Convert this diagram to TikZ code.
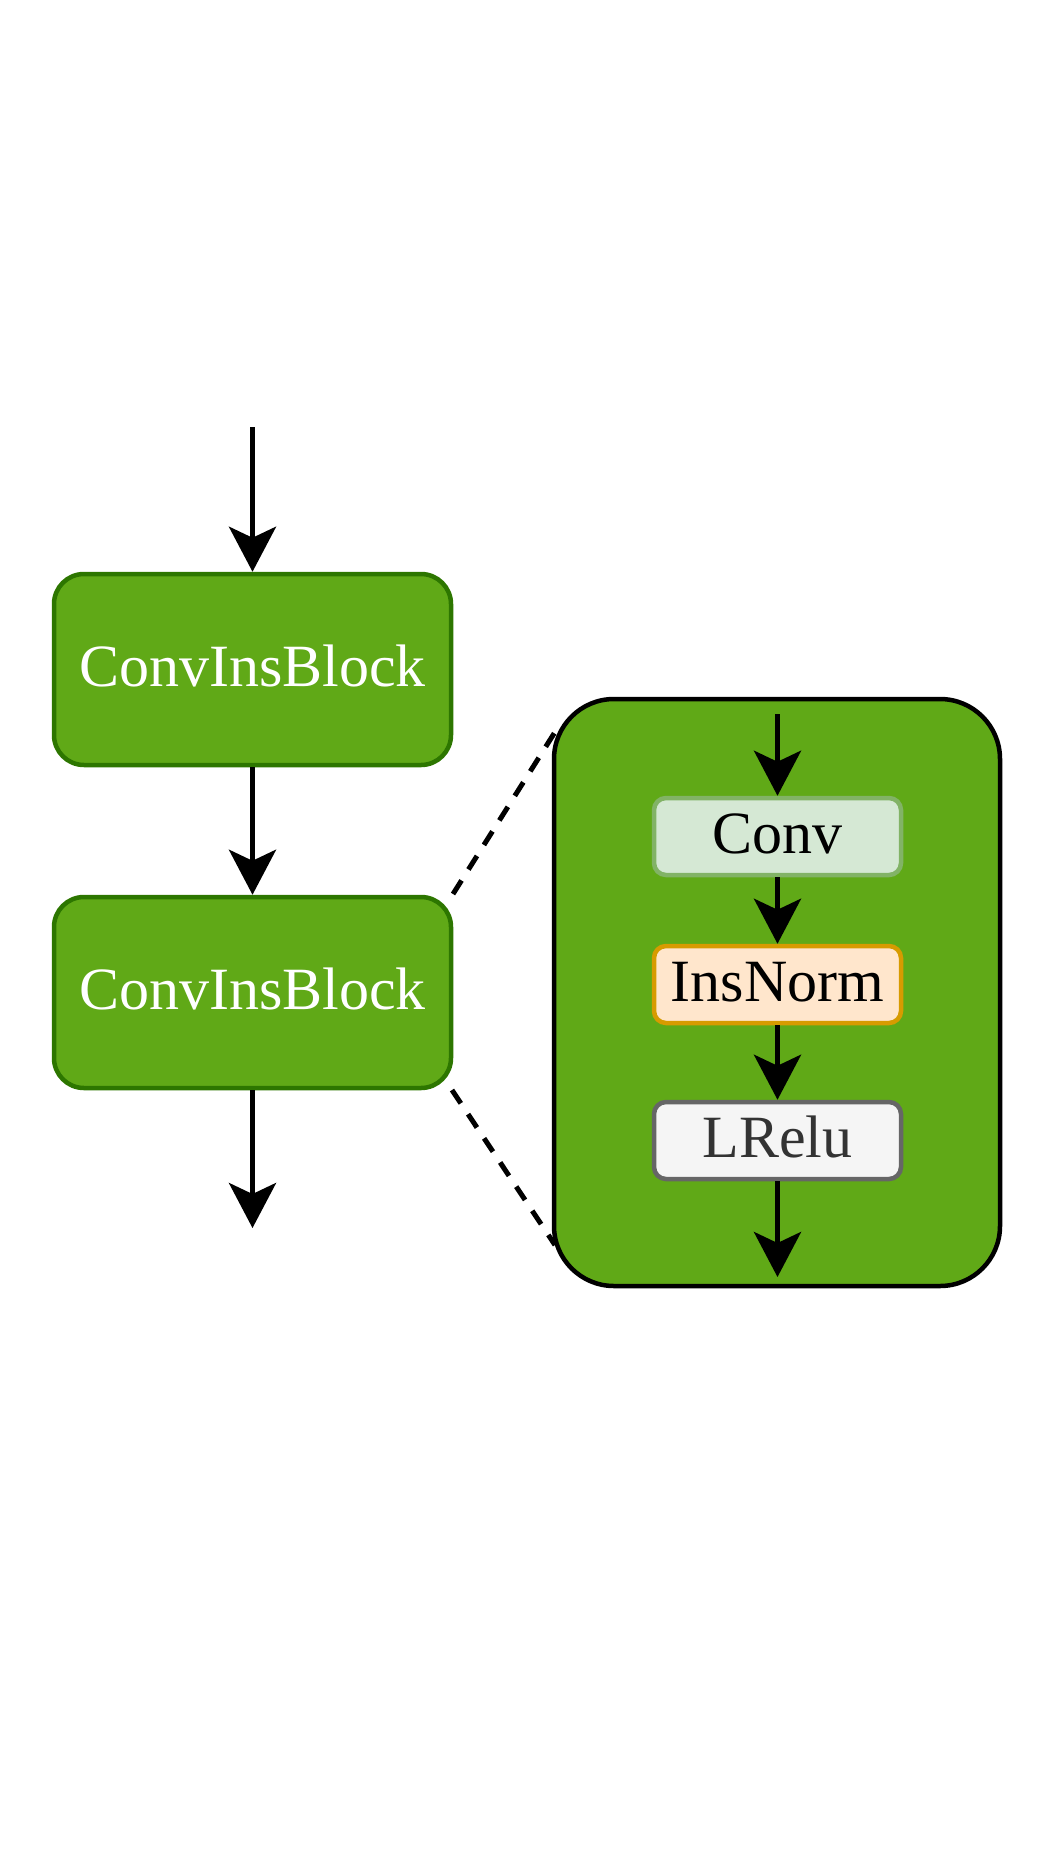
\documentclass[tikz,border=0pt]{standalone}
\usepackage{fontspec}
\setmainfont{Liberation Serif}
\usetikzlibrary{arrows.meta,calc}
\definecolor{gfill}{HTML}{60A917}
\definecolor{gline}{HTML}{2D7600}
\definecolor{cfill}{HTML}{D5E8D4}
\definecolor{cline}{HTML}{82B366}
\definecolor{nfill}{HTML}{FFE6CC}
\definecolor{nline}{HTML}{D79B00}
\definecolor{lfill}{HTML}{F5F5F5}
\definecolor{lline}{HTML}{666666}
\definecolor{ltext}{HTML}{333333}
\begin{document}
\begin{tikzpicture}[x=1pt,y=-1pt,
  blockbox/.style={draw=gline,fill=gfill,line width=4.5pt,rounded corners=30pt,
    minimum width=397pt,minimum height=191pt,inner sep=0pt,text=white,
    font=\fontsize{60}{72}\selectfont,text height=45pt,text depth=12pt},
  smallbox/.style={line width=4.5pt,rounded corners=12pt,
    minimum width=247pt,minimum height=77pt,inner sep=0pt,
    font=\fontsize{60}{72}\selectfont,text height=45pt,text depth=12pt},
  flow/.style={line width=5pt,-{Stealth[length=45pt,width=47pt,inset=11pt]}},
  zoomline/.style={line width=5pt,dash pattern=on 16pt off 13pt}
]
\useasboundingbox (0,0) rectangle (1060,1855);
\node[blockbox] (b1) at (252.5,669.5) {ConvInsBlock};
\node[blockbox] (b2) at (252.5,992.5) {ConvInsBlock};
\node[draw=black,fill=gfill,line width=4.5pt,rounded corners=60pt,
  minimum width=446pt,minimum height=587pt,inner sep=0pt] (big) at (777,992.5) {};
\node[smallbox,draw=cline,fill=cfill] (conv) at (777.5,836.5) {Conv};
\node[smallbox,draw=nline,fill=nfill] (norm) at (777.5,984.5) {InsNorm};
\node[smallbox,draw=lline,fill=lfill,text=ltext] (lrelu) at (777.5,1140.5) {LRelu};
\coordinate (in1) at (252.5,427);
\coordinate (out1) at (252.5,1228);
\coordinate (in2) at (777.5,714);
\coordinate (out2) at (777.5,1277);
\coordinate (zt) at (555,732);
\coordinate (zb) at (555,1245);
\coordinate (st) at (453,894);
\coordinate (sb) at (452,1090);
\draw[flow] (in1) -- (b1.north);
\draw[flow] (b1.south) -- (b2.north);
\draw[flow] (b2.south) -- (out1);
\draw[flow] (in2) -- (conv.north);
\draw[flow] (conv.south) -- (norm.north);
\draw[flow] (norm.south) -- (lrelu.north);
\draw[flow] (lrelu.south) -- (out2);
\draw[zoomline] (st) -- (zt);
\draw[zoomline] (sb) -- (zb);
\end{tikzpicture}
\end{document}
